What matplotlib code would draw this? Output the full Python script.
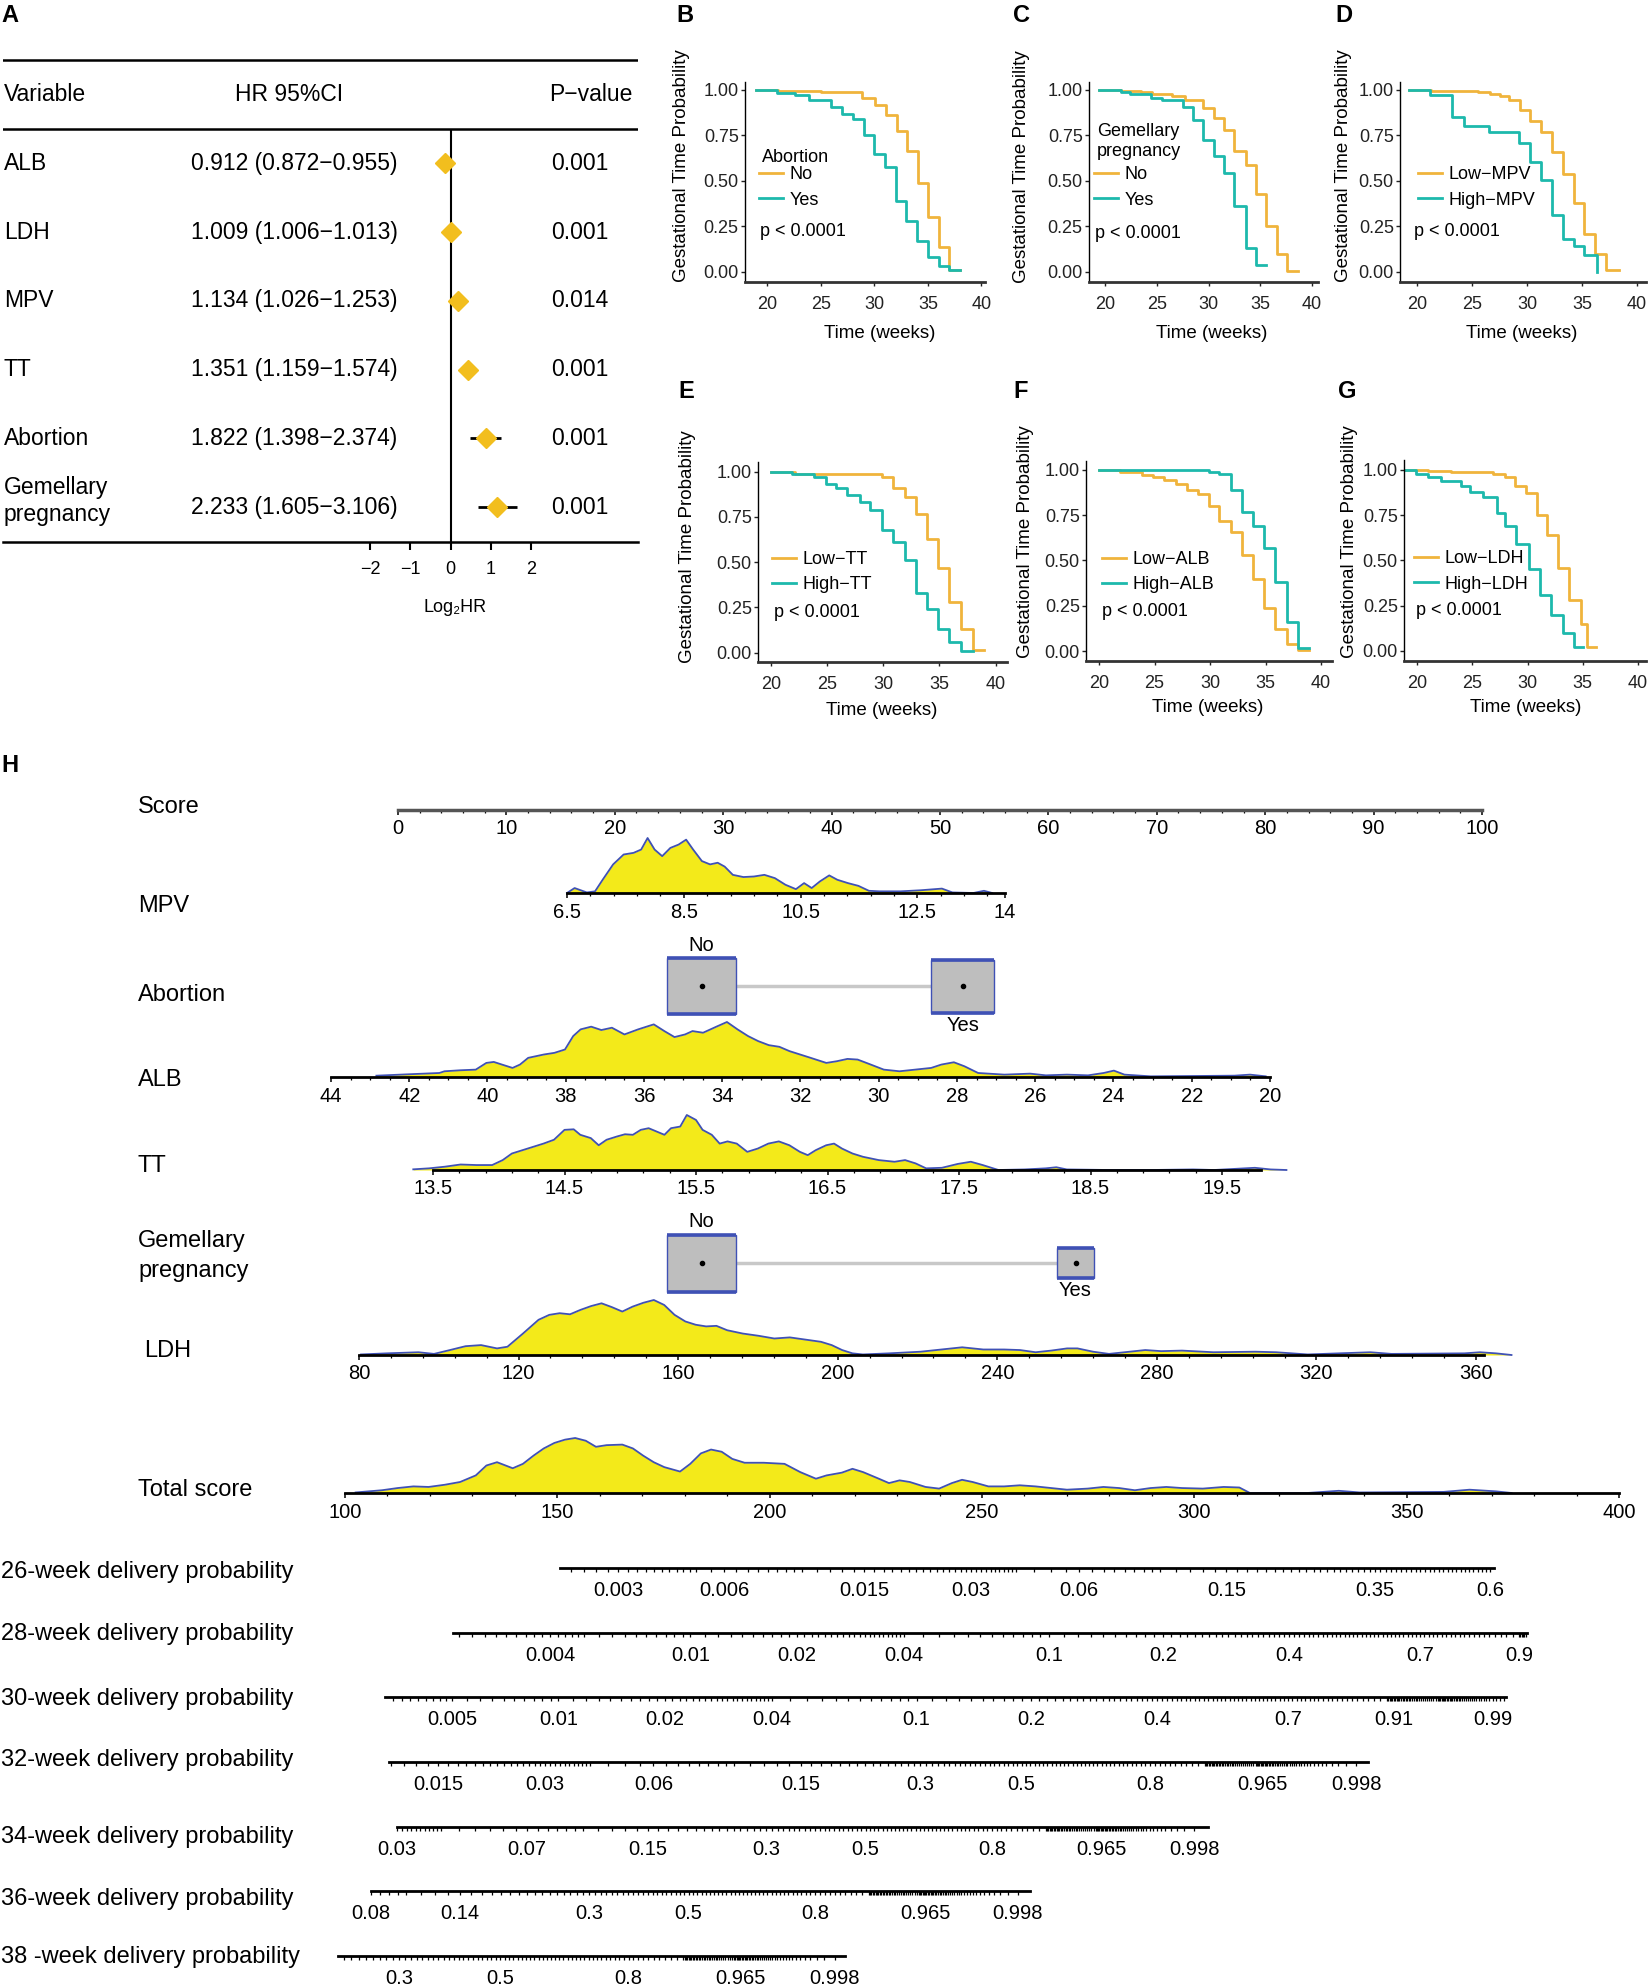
import numpy as np
import matplotlib
matplotlib.use("Agg")
import matplotlib.pyplot as plt
from matplotlib.patches import Rectangle

plt.rcParams['font.family'] = ['Liberation Sans', 'DejaVu Sans']

W, H = 1648, 1985
ORANGE = '#F0B43C'
TEAL = '#1DB9AC'
GOLD = '#F2BE1E'
YELLOW = '#F3EA1A'
BLUE = '#3F51B5'
BOXGRAY = '#BEBEBE'

# ---------------- panel A data (Cox regression) ----------------
variables = ["ALB", "LDH", "MPV", "TT", "Abortion", "Gemellary\npregnancy"]
hr = [0.912, 1.009, 1.134, 1.351, 1.822, 2.233]
hr_low = [0.872, 1.006, 1.026, 1.159, 1.398, 1.605]
hr_high = [0.955, 1.013, 1.253, 1.574, 2.374, 3.106]
p_values = ["0.001", "0.001", "0.014", "0.001", "0.001", "0.001"]
log2_ticks = [-2, -1, 0, 1, 2]

# ---------------- KM curves (weeks, survival) ----------------
B_t1 = [19.0, 21.0, 25.0, 28.9, 30.1, 31.1, 32.1, 33.1, 34.1, 35.0, 36.0, 37.0, 38.0]
B_s1 = [1.00, 0.995, 0.99, 0.955, 0.915, 0.86, 0.775, 0.665, 0.49, 0.30, 0.135, 0.01, 0.01]
B_t2 = [19.0, 20.9, 22.6, 23.9, 26.0, 27.0, 28.0, 29.0, 30.0, 31.0, 32.0, 33.0, 34.0, 35.0, 36.0, 37.0, 38.0]
B_s2 = [1.00, 0.985, 0.97, 0.945, 0.905, 0.87, 0.84, 0.75, 0.65, 0.575, 0.39, 0.28, 0.17, 0.08, 0.03, 0.01, 0.01]

C_t1 = [19.4, 21.5, 23.5, 24.5, 26.5, 27.7, 29.5, 30.5, 31.5, 32.5, 33.6, 34.6, 35.6, 36.6, 37.6, 38.6]
C_s1 = [1.0, 0.995, 0.99, 0.98, 0.965, 0.945, 0.90, 0.845, 0.78, 0.665, 0.585, 0.43, 0.25, 0.10, 0.005, 0.005]
C_t2 = [19.4, 21.5, 22.4, 24.4, 25.5, 27.5, 28.5, 29.5, 30.5, 31.5, 32.5, 33.6, 34.6, 35.6]
C_s2 = [1.0, 0.99, 0.98, 0.955, 0.945, 0.905, 0.835, 0.725, 0.635, 0.545, 0.36, 0.13, 0.035, 0.035]

D_t1 = [19.3, 21.3, 25.5, 26.6, 27.5, 28.4, 29.4, 30.3, 31.3, 32.3, 33.3, 34.3, 35.2, 36.2, 37.2, 38.4]
D_s1 = [1.0, 0.995, 0.99, 0.98, 0.965, 0.945, 0.89, 0.83, 0.77, 0.66, 0.54, 0.38, 0.21, 0.10, 0.01, 0.01]
D_t2 = [19.3, 21.2, 23.2, 24.3, 26.5, 29.3, 30.3, 31.3, 32.3, 33.3, 34.3, 35.2, 36.4]
D_s2 = [1.0, 0.97, 0.85, 0.80, 0.77, 0.71, 0.605, 0.505, 0.31, 0.18, 0.14, 0.09, 0.0]

E_t1 = [20.0, 22.1, 29.9, 30.9, 31.9, 32.9, 33.9, 34.9, 35.9, 36.9, 38.0, 39.0]
E_s1 = [1.0, 0.99, 0.97, 0.91, 0.86, 0.765, 0.63, 0.47, 0.28, 0.13, 0.015, 0.015]
E_t2 = [20.0, 21.9, 23.8, 24.9, 25.8, 26.8, 27.9, 28.8, 29.9, 30.9, 31.9, 32.9, 33.9, 34.9, 35.9, 36.9, 38.0]
E_s2 = [1.0, 0.99, 0.97, 0.93, 0.91, 0.87, 0.83, 0.79, 0.68, 0.61, 0.51, 0.33, 0.24, 0.13, 0.06, 0.01, 0.01]

F_t1 = [20.0, 21.9, 23.9, 24.9, 25.9, 26.9, 27.9, 28.9, 29.9, 30.8, 31.9, 32.9, 33.9, 34.9, 35.9, 36.9, 37.9, 38.9]
F_s1 = [1.0, 0.99, 0.975, 0.96, 0.945, 0.92, 0.89, 0.87, 0.80, 0.72, 0.66, 0.53, 0.40, 0.24, 0.12, 0.04, 0.005, 0.005]
F_t2 = [20.0, 29.9, 30.8, 31.9, 32.9, 33.9, 34.9, 35.9, 36.9, 37.9, 38.9]
F_s2 = [1.0, 0.99, 0.98, 0.89, 0.77, 0.69, 0.57, 0.38, 0.16, 0.015, 0.015]

G_t1 = [18.8, 21.0, 23.1, 26.9, 28.0, 28.9, 29.9, 30.9, 31.8, 32.8, 33.8, 34.8, 35.4, 36.2]
G_s1 = [1.0, 0.995, 0.99, 0.98, 0.96, 0.91, 0.87, 0.75, 0.64, 0.46, 0.28, 0.15, 0.02, 0.02]
G_t2 = [18.8, 19.9, 21.0, 22.2, 24.0, 24.8, 26.0, 27.2, 28.0, 29.0, 30.1, 31.1, 32.1, 33.2, 34.2, 35.0]
G_s2 = [1.0, 0.98, 0.96, 0.94, 0.91, 0.88, 0.85, 0.76, 0.69, 0.59, 0.45, 0.31, 0.20, 0.10, 0.02, 0.02]

# ---------------- nomogram (H) ----------------
score_ticks = list(range(0, 101, 10))
mpv_ticks = [6.5, 8.5, 10.5, 12.5, 14]
mpv_labels = ["6.5", "8.5", "10.5", "12.5", "14"]
alb_ticks = list(range(44, 19, -2))
tt_ticks = [13.5, 14.5, 15.5, 16.5, 17.5, 18.5, 19.5]
ldh_ticks = list(range(80, 361, 40))
total_ticks = list(range(100, 401, 50))

mpv_val = [6.5, 6.63, 6.84, 6.98, 7.11, 7.29, 7.47, 7.64, 7.77, 7.88, 8.0, 8.13, 8.27, 8.41, 8.54,
           8.66, 8.81, 8.95, 9.08, 9.20, 9.34, 9.52, 9.70, 9.88, 10.06, 10.24, 10.42, 10.56, 10.69,
           10.83, 10.99, 11.13, 11.31, 11.49, 11.67, 11.85, 12.21, 12.56, 12.92, 13.10, 13.46, 13.64, 13.78]
mpv_den = [0.0, 0.09, 0.01, 0.03, 0.24, 0.52, 0.70, 0.73, 0.79, 1.0, 0.79, 0.67, 0.82, 0.88, 0.97,
           0.79, 0.58, 0.52, 0.55, 0.48, 0.33, 0.29, 0.30, 0.33, 0.27, 0.15, 0.07, 0.18, 0.09,
           0.21, 0.32, 0.24, 0.18, 0.13, 0.04, 0.03, 0.03, 0.05, 0.08, 0.01, 0.0, 0.04, 0.0]

alb_val = [42.84, 42.03, 41.23, 41.10, 40.70, 40.30, 40.03, 39.84, 39.63, 39.36,
           39.17, 38.96, 38.56, 38.29, 38.02, 37.81, 37.62, 37.35, 37.09, 36.82,
           36.50, 36.15, 35.75, 35.48, 35.22, 34.95, 34.76, 34.49, 34.15, 33.88,
           33.61, 33.34, 33.08, 32.81, 32.54, 32.28, 32.01, 31.74, 31.34, 31.07,
           30.80, 30.54, 30.27, 29.87, 29.47, 29.07, 28.66, 28.40, 28.08, 27.81,
           27.46, 26.79, 26.13, 25.73, 25.19, 24.65, 24.25, 23.99, 23.72, 23.05,
           20.91, 20.51, 20.11]
alb_den = [0.024, 0.049, 0.073, 0.104, 0.122, 0.134, 0.256, 0.274, 0.226, 0.165,
           0.226, 0.348, 0.409, 0.439, 0.5, 0.744, 0.866, 0.915, 0.854, 0.896,
           0.774, 0.866, 0.957, 0.835, 0.726, 0.774, 0.835, 0.805, 0.915, 1.0,
           0.866, 0.744, 0.652, 0.579, 0.549, 0.47, 0.409, 0.348, 0.256, 0.287,
           0.329, 0.317, 0.244, 0.134, 0.104, 0.134, 0.165, 0.226, 0.268, 0.195,
           0.073, 0.043, 0.061, 0.03, 0.043, 0.03, 0.073, 0.116, 0.043, 0.012,
           0.024, 0.043, 0.012]

tt_val = [13.35, 13.47, 13.59, 13.71, 13.83, 13.95, 14.03, 14.10, 14.18, 14.26,
          14.34, 14.42, 14.50, 14.57, 14.62, 14.70, 14.76, 14.82, 14.90, 14.96,
          15.02, 15.08, 15.14, 15.20, 15.26, 15.31, 15.38, 15.43, 15.50, 15.55,
          15.62, 15.68, 15.74, 15.81, 15.89, 15.97, 16.05, 16.13, 16.21, 16.29,
          16.35, 16.41, 16.49, 16.55, 16.61, 16.69, 16.77, 16.89, 17.01, 17.09,
          17.17, 17.25, 17.37, 17.49, 17.59, 17.68, 17.80, 18.00, 18.16, 18.24,
          18.32, 18.64, 18.96, 19.28, 19.44, 19.75, 19.87, 19.99]
tt_den = [0.012, 0.03, 0.06, 0.10, 0.09, 0.09, 0.18, 0.30, 0.36, 0.42,
          0.48, 0.55, 0.73, 0.74, 0.64, 0.58, 0.45, 0.55, 0.61, 0.65,
          0.64, 0.73, 0.76, 0.70, 0.64, 0.76, 0.79, 1.0, 0.91, 0.73,
          0.64, 0.48, 0.52, 0.48, 0.33, 0.39, 0.48, 0.52, 0.45, 0.33,
          0.27, 0.36, 0.45, 0.48, 0.39, 0.30, 0.24, 0.18, 0.15, 0.18,
          0.12, 0.03, 0.04, 0.11, 0.15, 0.09, 0.0, 0.01, 0.03, 0.05,
          0.01, 0.0, 0.0, 0.01, 0.0, 0.04, 0.01, 0.0]

ldh_val = [80.5, 87.0, 94.9, 98.8, 102.8, 106.7, 110.6, 114.6, 117.2, 121.1,
           125.0, 127.7, 130.3, 132.9, 135.5, 138.2, 140.8, 143.4, 146.0, 148.6,
           151.3, 153.9, 156.5, 159.1, 161.8, 164.4, 167.0, 169.6, 172.3, 176.2,
           180.1, 184.1, 188.0, 191.9, 195.8, 198.5, 201.1, 203.7, 206.3, 212.9,
           220.8, 226.0, 231.2, 236.5, 241.7, 245.7, 249.6, 253.5, 257.5, 260.1,
           264.0, 268.0, 273.2, 277.1, 281.1, 286.3, 294.2, 304.7, 309.9, 317.8,
           333.5, 338.8, 357.1, 361.0, 365.0, 368.9]
ldh_den = [0.01, 0.03, 0.05, 0.02, 0.09, 0.16, 0.18, 0.12, 0.15, 0.39,
           0.64, 0.73, 0.76, 0.74, 0.82, 0.89, 0.94, 0.87, 0.79, 0.88,
           0.95, 1.0, 0.91, 0.73, 0.61, 0.55, 0.52, 0.53, 0.45, 0.39,
           0.35, 0.30, 0.32, 0.28, 0.24, 0.18, 0.09, 0.03, 0.01, 0.03,
           0.06, 0.10, 0.14, 0.10, 0.10, 0.09, 0.05, 0.08, 0.12, 0.12,
           0.06, 0.02, 0.06, 0.09, 0.07, 0.08, 0.05, 0.06, 0.05, 0.01,
           0.05, 0.02, 0.03, 0.05, 0.03, 0.0]

total_val = [102.5, 108.7, 112.4, 116.1, 119.7, 123.5, 127.1, 130.8, 133.3, 135.8,
             139.5, 141.9, 144.4, 146.8, 149.3, 151.8, 154.2, 156.7, 159.1, 161.6,
             165.3, 167.8, 170.2, 172.7, 175.2, 178.9, 181.3, 183.8, 186.2, 188.7,
             191.2, 194.1, 198.6, 203.5, 207.2, 210.9, 213.4, 217.0, 219.5, 222.0,
             225.7, 228.1, 230.6, 233.0, 236.7, 239.9, 242.9, 245.3, 247.8, 251.5,
             255.2, 258.9, 262.6, 266.3, 270.0, 274.9, 278.6, 282.3, 286.0, 289.7,
             293.4, 297.1, 302.0, 306.9, 310.6, 313.1, 326.6, 334.0, 338.9, 358.7,
             364.8, 371.0, 374.7]
total_den = [0.01, 0.05, 0.09, 0.12, 0.11, 0.15, 0.20, 0.32, 0.50, 0.56,
             0.45, 0.53, 0.68, 0.81, 0.91, 0.97, 1.0, 0.95, 0.84, 0.87,
             0.88, 0.81, 0.68, 0.56, 0.47, 0.39, 0.53, 0.72, 0.79, 0.75,
             0.62, 0.55, 0.55, 0.53, 0.38, 0.26, 0.32, 0.37, 0.44, 0.38,
             0.26, 0.18, 0.23, 0.20, 0.11, 0.08, 0.18, 0.24, 0.20, 0.12,
             0.12, 0.14, 0.12, 0.09, 0.06, 0.08, 0.11, 0.09, 0.05, 0.09,
             0.11, 0.09, 0.08, 0.11, 0.10, 0.0, 0.0, 0.04, 0.01, 0.02,
             0.06, 0.03, 0.0]

abort_labels = ["No", "Yes"]
abort_pts = [28.0, 52.1]
gem_labels = ["No", "Yes"]
gem_pts = [28.0, 62.5]

prob_names = ["26-week delivery probability", "28-week delivery probability",
              "30-week delivery probability", "32-week delivery probability",
              "34-week delivery probability", "36-week delivery probability",
              "38 -week delivery probability"]
# total score at which the complementary log-log of the probability is 0
prob_t0 = [372.8, 346.5, 315.4, 272.5, 234.4, 192.8, 149.7]
prob_slope = 35.9
prob_range = [(150.6, 370.5), (125.4, 378.3), (109.4, 373.4), (110.4, 340.9),
              (112.2, 303.2), (106.1, 261.3), (98.4, 217.7)]
prob_labels = [
    ["0.003", "0.006", "0.015", "0.03", "0.06", "0.15", "0.35", "0.6"],
    ["0.004", "0.01", "0.02", "0.04", "0.1", "0.2", "0.4", "0.7", "0.9"],
    ["0.005", "0.01", "0.02", "0.04", "0.1", "0.2", "0.4", "0.7", "0.91", "0.99"],
    ["0.015", "0.03", "0.06", "0.15", "0.3", "0.5", "0.8", "0.965", "0.998"],
    ["0.03", "0.07", "0.15", "0.3", "0.5", "0.8", "0.965", "0.998"],
    ["0.08", "0.14", "0.3", "0.5", "0.8", "0.965", "0.998"],
    ["0.3", "0.5", "0.8", "0.965", "0.998"],
]

fig = plt.figure(figsize=(W / 100, H / 100), dpi=100)


def px_axes(left, top, right, bottom):
    return fig.add_axes([left / W, 1 - bottom / H, (right - left) / W, (bottom - top) / H])


def fig_text(x, y, s, **kw):
    fig.text(x / W, 1 - y / H, s, **kw)


# ================= A: forest table =================
fig_text(10, 16, "A", fontsize=17, fontweight='bold', ha='center', va='center')
axA = px_axes(3, 40, 638, 541.5)
axA.set_xlim((3 - 450.7) / 40.3, (638 - 450.7) / 40.3)
axA.set_ylim(5.5, (40 - 163.5) / 68.8)
for s in ['top', 'left', 'right']:
    axA.spines[s].set_visible(False)
axA.spines['bottom'].set_linewidth(1.8)
axA.axhline(-1.5, color='black', lw=1.8)
axA.axhline(-0.5, color='black', lw=1.8)
axA.vlines(0, -0.5, 5.5, color='black', lw=1.5)
rows = np.arange(len(variables))
axA.hlines(rows, np.log2(hr_low), np.log2(hr_high), color='black', lw=2, zorder=2)
axA.plot(np.log2(hr), rows, 'D', color=GOLD, ms=10.5, zorder=3)
axA.set_yticks([])
axA.set_xticks(log2_ticks)
axA.tick_params(axis='x', direction='out', length=6, width=1.5, labelsize=13, pad=8)
trA = axA.get_yaxis_transform()


def fa(px):
    return (px - 3) / 635


fsA = 16.5
axA.text(fa(4), -1, "Variable", transform=trA, fontsize=fsA, ha='left', va='center')
axA.text(fa(289), -1, "HR 95%CI", transform=trA, fontsize=fsA, ha='center', va='center')
axA.text(fa(632), -1, "P\u2212value", transform=trA, fontsize=fsA, ha='right', va='center')
for i, name in enumerate(variables):
    yoff = -0.09 if "\n" in name else 0
    axA.text(fa(4), i + yoff, name, transform=trA, fontsize=fsA, ha='left', va='center',
             linespacing=1.25)
    axA.text(fa(294), i, f"{hr[i]:.3f} ({hr_low[i]:.3f}\u2212{hr_high[i]:.3f})", transform=trA,
             fontsize=fsA, ha='center', va='center')
    axA.text(fa(580), i, p_values[i], transform=trA, fontsize=fsA, ha='center', va='center')
axA.text((455 - 3) / 635, -(607 - 541.5) / 501.5, "Log\u2082HR", transform=axA.transAxes,
         fontsize=13, ha='center', va='center')

# ================= B-G: Kaplan-Meier =================
KM_FS = 13
KM_LAB_FS = 13.5
km_panels = [
    dict(letter='B', box=(745, 82, 985, 282), t20=767, t40=981.5, y1=90, y0=271.7,
         curves=(B_t1, B_s1, B_t2, B_s2), labels=("No", "Yes"), title="Abortion",
         title_xy=(0.07, 0.62), leg_xy=(0.058, 0.578), p_xy=(0.0625, 0.255),
         lab_x=682, lab_y=166, letter_xy=(685, 15), xlab=(880, 333)),
    dict(letter='C', box=(1089, 82, 1318, 282), t20=1105, t40=1312, y1=90, y0=271.7,
         curves=(C_t1, C_s1, C_t2, C_s2), labels=("No", "Yes"), title="Gemellary\npregnancy",
         title_xy=(0.035, 0.7025), leg_xy=(0.02, 0.578), p_xy=(0.026, 0.245),
         lab_x=1022, lab_y=167, letter_xy=(1022, 15), xlab=(1212, 333)),
    dict(letter='D', box=(1400, 82, 1646, 282), t20=1417, t40=1637, y1=90, y0=271.7,
         curves=(D_t1, D_s1, D_t2, D_s2), labels=("Low\u2212MPV", "High\u2212MPV"), title=None,
         title_xy=None, leg_xy=(0.073, 0.578), p_xy=(0.057, 0.25),
         lab_x=1343, lab_y=166, letter_xy=(1344, 15), xlab=(1522, 333)),
    dict(letter='E', box=(758, 462, 1007, 662), t20=771, t40=995.5, y1=471.7, y0=652.7,
         curves=(E_t1, E_s1, E_t2, E_s2), labels=("Low\u2212TT", "High\u2212TT"), title=None,
         title_xy=None, leg_xy=(0.056, 0.555), p_xy=(0.064, 0.25),
         lab_x=688, lab_y=547, letter_xy=(686, 392), xlab=(881.5, 710)),
    dict(letter='F', box=(1086, 461, 1332, 661), t20=1099, t40=1321, y1=470, y0=651,
         curves=(F_t1, F_s1, F_t2, F_s2), labels=("Low\u2212ALB", "High\u2212ALB"), title=None,
         title_xy=None, leg_xy=(0.065, 0.55), p_xy=(0.065, 0.25),
         lab_x=1026, lab_y=542, letter_xy=(1021, 392), xlab=(1208, 708)),
    dict(letter='G', box=(1404, 460, 1646, 661), t20=1417, t40=1638, y1=470, y0=650.7,
         curves=(G_t1, G_s1, G_t2, G_s2), labels=("Low\u2212LDH", "High\u2212LDH"), title=None,
         title_xy=None, leg_xy=(0.041, 0.55), p_xy=(0.05, 0.25),
         lab_x=1350, lab_y=542, letter_xy=(1347, 392), xlab=(1526, 708)),
]

for pnl in km_panels:
    l, t, r, b = pnl['box']
    ax = px_axes(l, t, r, b)
    wk = 20.0 / (pnl['t40'] - pnl['t20'])
    ax.set_xlim(20 + (l - pnl['t20']) * wk, 20 + (r - pnl['t20']) * wk)
    un = 1.0 / (pnl['y0'] - pnl['y1'])
    ax.set_ylim(-(b - pnl['y0']) * un, (pnl['y0'] - t) * un)
    t1, s1, t2, s2 = pnl['curves']
    h1, = ax.step(t1, s1, where='post', color=ORANGE, lw=2.0, label=pnl['labels'][0])
    h2, = ax.step(t2, s2, where='post', color=TEAL, lw=2.0, label=pnl['labels'][1])
    for s in ['top', 'right']:
        ax.spines[s].set_visible(False)
    ax.spines['left'].set_linewidth(1.0)
    ax.spines['bottom'].set_linewidth(2.0)
    ax.spines['bottom'].set_color('#333333')
    ax.set_xticks([20, 25, 30, 35, 40])
    ax.set_yticks([0, 0.25, 0.5, 0.75, 1.0], labels=["0.00", "0.25", "0.50", "0.75", "1.00"])
    ax.tick_params(direction='out', length=3, width=1, labelsize=KM_FS, colors='#222222')
    ax.tick_params(axis='x', pad=7)
    ax.tick_params(axis='y', pad=1.5)
    ax.text((pnl['lab_x'] - l) / (r - l), (b - pnl['lab_y']) / (b - t), "Gestational Time Probability",
            transform=ax.transAxes, rotation=90, ha='center', va='center', fontsize=KM_LAB_FS)
    ax.text((pnl['xlab'][0] - l) / (r - l), (b - pnl['xlab'][1]) / (b - t), "Time (weeks)",
            transform=ax.transAxes, ha='center', va='center', fontsize=KM_LAB_FS)
    if pnl['title']:
        ax.text(*pnl['title_xy'], pnl['title'], transform=ax.transAxes, ha='left', va='center',
                fontsize=KM_FS, linespacing=1.25)
    ax.legend(handles=[h1, h2], loc='upper left', bbox_to_anchor=pnl['leg_xy'], frameon=False,
              fontsize=KM_FS, handlelength=1.35, handletextpad=0.35, labelspacing=0.45,
              borderpad=0, borderaxespad=0)
    ax.text(*pnl['p_xy'], "p < 0.0001", transform=ax.transAxes, ha='left', va='center', fontsize=KM_FS)
    fig_text(*pnl['letter_xy'], pnl['letter'], fontsize=17, fontweight='bold', ha='center', va='center')

# ================= H: nomogram =================
fig_text(10, 765, "H", fontsize=17, fontweight='bold', ha='center', va='center')
TICK_FS = 14.5
ROW_FS = 17
PEAK = 55.0


def row_axes(base, v0, p0, v1, p1, up=62):
    ax = px_axes(0, base - up, W, base)
    k = (v1 - v0) / (p1 - p0)
    ax.set_xlim(v0 - p0 * k, v0 + (W - p0) * k)
    ax.set_ylim(0, up / PEAK)
    ax.patch.set_visible(False)
    for s in ['top', 'left', 'right']:
        ax.spines[s].set_visible(False)
    ax.spines['bottom'].set_linewidth(2.0)
    ax.set_yticks([])
    return ax


def style_ticks(ax, pad):
    ax.tick_params(axis='x', which='major', direction='out', length=3.8, width=1.1,
                   labelsize=TICK_FS, pad=pad)
    ax.tick_params(axis='x', which='minor', direction='out', length=2.4, width=0.9)


def density(ax, vals, den):
    ax.fill_between(vals, 0, den, color=YELLOW, lw=0, zorder=1, clip_on=False)
    ax.plot(vals, den, color=BLUE, lw=1.3, zorder=2, clip_on=False)


# Score
ax = row_axes(810, 0, 398, 100, 1482)
ax.spines['bottom'].set_bounds(0, 100)
ax.spines['bottom'].set_color('#555555')
ax.spines['bottom'].set_linewidth(2.5)
ax.set_xticks(score_ticks)
ax.set_xticks(np.arange(0, 101, 2), minor=True)
style_ticks(ax, 3)
score_xlim = ax.get_xlim()

# MPV
ax = row_axes(893, 6.5, 567, 14, 1005)
density(ax, mpv_val, mpv_den)
ax.spines['bottom'].set_bounds(6.5, 14)
ax.set_xticks(mpv_ticks, labels=mpv_labels)
ax.set_xticks(np.arange(6.5, 14.01, 0.4), minor=True)
style_ticks(ax, 3.6)

# ALB
ax = row_axes(1077, 44, 331, 20, 1270)
density(ax, alb_val, alb_den)
ax.spines['bottom'].set_bounds(44, 20)
ax.set_xticks(alb_ticks)
ax.set_xticks(np.arange(20, 44.01, 0.5), minor=True)
style_ticks(ax, 3.6)

# TT
ax = row_axes(1170, 13.5, 433, 19.5, 1222)
density(ax, tt_val, tt_den)
ax.spines['bottom'].set_bounds(13.5, 19.8)
ax.set_xticks(tt_ticks, labels=[f"{v:.1f}" for v in tt_ticks])
ax.set_xticks(np.arange(13.5, 19.81, 0.2), minor=True)
style_ticks(ax, 3)

# LDH
ax = row_axes(1355, 80, 359, 360, 1476)
density(ax, ldh_val, ldh_den)
ax.spines['bottom'].set_bounds(80, 362)
ax.set_xticks(ldh_ticks)
ax.set_xticks(np.arange(80, 362, 8), minor=True)
style_ticks(ax, 3)

# Total score
ax = row_axes(1493, 100, 345, 400, 1619)
density(ax, total_val, total_den)
ax.spines['bottom'].set_bounds(100, 400)
ax.set_xticks(total_ticks)
ax.set_xticks(np.arange(100, 401, 10), minor=True)
style_ticks(ax, 3.6)


# categorical rows
def cat_row(center, pts, labels, widths, heights):
    ax = px_axes(0, center - 60, W, center + 60)
    ax.set_xlim(score_xlim)
    ax.set_ylim(60, -60)
    ax.axis('off')
    ax.plot(pts, [0, 0], color='#C8C8C8', lw=2.5, zorder=1)
    for x, w, h in zip(pts, widths, heights):
        ax.add_patch(Rectangle((x - w / 2, -h / 2), w, h, fc=BOXGRAY, ec=BLUE, lw=1.0, zorder=2))
        ax.hlines([-h / 2, h / 2], x - w / 2, x + w / 2, color=BLUE, lw=2.6, zorder=3)
    ax.plot(pts, [0, 0], 'o', color='black', ms=3, zorder=4)
    ax.text(pts[0], -heights[0] / 2 - 13, labels[0], ha='center', va='center', fontsize=TICK_FS)
    ax.text(pts[1], heights[1] / 2 + 13, labels[1], ha='center', va='center', fontsize=TICK_FS)


cat_row(986, abort_pts, abort_labels, [6.4, 5.8], [56, 53])
cat_row(1263, gem_pts, gem_labels, [6.4, 3.5], [57, 30])

# probability rows on a complementary log-log scale


def cloglog(p):
    p = np.asarray(p, dtype=float)
    with np.errstate(divide='ignore', invalid='ignore'):
        return np.log(-np.log(1 - p))


def inv_cloglog(z):
    return 1 - np.exp(-np.exp(np.asarray(z, dtype=float)))


def total_px(tot):
    return 345 + (tot - 100) * (1619 - 345) / 300.0


prob_minor = np.concatenate([
    np.arange(0.001, 0.005, 0.0002), np.arange(0.005, 0.01, 0.0005),
    np.arange(0.01, 0.04, 0.001), np.arange(0.04, 0.1, 0.005),
    np.arange(0.1, 0.9, 0.01), np.arange(0.9, 0.96, 0.002),
    np.arange(0.96, 0.9991, 0.001)])

prob_base = [1568, 1633, 1697, 1762, 1827, 1891, 1956]
prob_text_y = [1572, 1634, 1699, 1760, 1837, 1899, 1957]
for i, name in enumerate(prob_names):
    t_lo, t_hi = prob_range[i]
    x0, x1 = total_px(t_lo), total_px(t_hi)
    ax = px_axes(x0, prob_base[i] - 2, x1, prob_base[i])
    ax.set_xscale('function', functions=(cloglog, inv_cloglog))
    ax.set_xlim(inv_cloglog((t_lo - prob_t0[i]) / prob_slope),
                inv_cloglog((t_hi - prob_t0[i]) / prob_slope))
    ax.patch.set_visible(False)
    for s in ['top', 'left', 'right']:
        ax.spines[s].set_visible(False)
    ax.spines['bottom'].set_linewidth(2.0)
    ax.set_yticks([])
    vals = [float(v) for v in prob_labels[i]]
    ax.set_xticks(vals, labels=prob_labels[i])
    lo, hi = ax.get_xlim()
    ax.set_xticks([m for m in prob_minor if lo <= m <= hi], minor=True)
    ax.tick_params(axis='x', which='major', direction='out', length=2.8, width=0.9,
                   labelsize=TICK_FS, pad=6.5)
    ax.tick_params(axis='x', which='minor', direction='out', length=2.8, width=0.9)
    fig_text(1, prob_text_y[i], name, fontsize=ROW_FS, ha='left', va='center')

# row labels
for label, y in [("Score", 807), ("MPV", 906), ("Abortion", 995), ("ALB", 1080), ("TT", 1166),
                 ("Gemellary\npregnancy", 1256), ("Total score", 1490)]:
    fig_text(138, y, label, fontsize=ROW_FS, ha='left', va='center', linespacing=1.45)
fig_text(144, 1351, "LDH", fontsize=ROW_FS, ha='left', va='center')

fig.savefig("out.png", dpi=100)
